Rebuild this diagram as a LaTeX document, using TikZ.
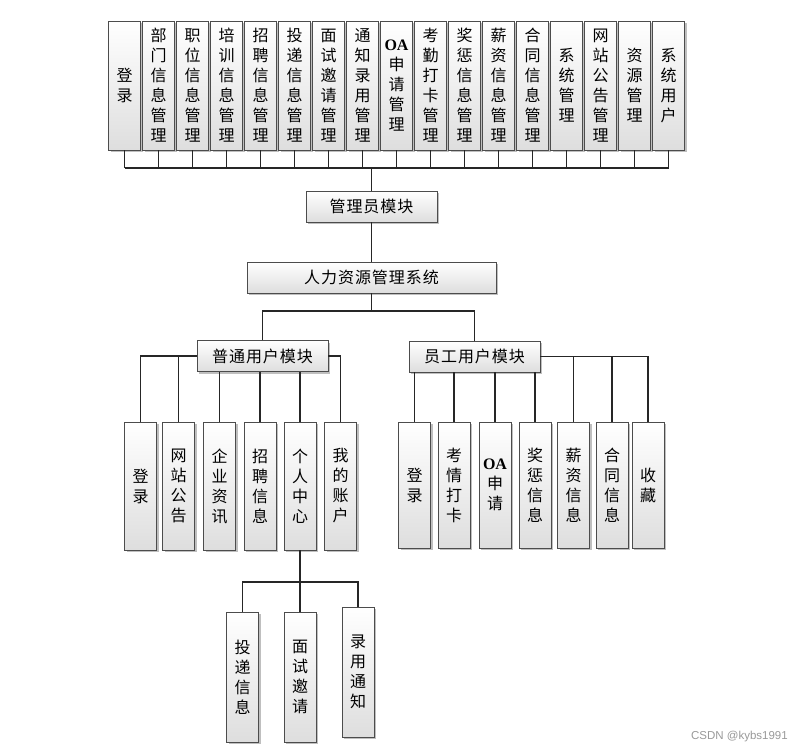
\documentclass[tikz,border=0pt]{standalone}
\usepackage{fontspec}
\setmainfont{Liberation Serif}
\newfontfamily\cjk{Noto Sans CJK SC}
\newfontfamily\cjkh[LetterSpace=6]{Noto Sans CJK SC}
\newfontfamily\oaf{Liberation Serif}
\newfontfamily\wmf{Liberation Sans}
\usetikzlibrary{shadows}
\newcommand\OAtxt{{\oaf\bfseries OA}}
\begin{document}
\begin{tikzpicture}[x=1pt,y=-1pt,
  box/.style={draw=black!70, line width=0.9pt, top color=white, bottom color=black!13,
    drop shadow={shadow xshift=2pt, shadow yshift=-2pt, fill=black!25, opacity=1},
    inner sep=0pt, align=center},
  vbox/.style={box, minimum width=32pt, font=\cjk\fontsize{16}{20}\selectfont},
  hbox/.style={box, minimum height=31pt, font=\cjkh\fontsize{16}{18}\selectfont},
  conn/.style={draw=black!85, line width=1.2pt}]
\fill[white] (0,0) rectangle (805,752);
\useasboundingbox (0,0) rectangle (805,752);

% top row
\node[vbox, minimum height=129pt] (t1)  at (124.5,85.5) {登\\录};
\node[vbox, minimum height=129pt] (t2)  at (158.5,85.5) {部\\门\\信\\息\\管\\理};
\node[vbox, minimum height=129pt] (t3)  at (192.5,85.5) {职\\位\\信\\息\\管\\理};
\node[vbox, minimum height=129pt] (t4)  at (226.5,85.5) {培\\训\\信\\息\\管\\理};
\node[vbox, minimum height=129pt] (t5)  at (260.5,85.5) {招\\聘\\信\\息\\管\\理};
\node[vbox, minimum height=129pt] (t6)  at (294.5,85.5) {投\\递\\信\\息\\管\\理};
\node[vbox, minimum height=129pt] (t7)  at (328.5,85.5) {面\\试\\邀\\请\\管\\理};
\node[vbox, minimum height=129pt] (t8)  at (362.5,85.5) {通\\知\\录\\用\\管\\理};
\node[vbox, minimum height=129pt] (t9)  at (396.5,85.5) {\OAtxt\\申\\请\\管\\理};
\node[vbox, minimum height=129pt] (t10) at (430.5,85.5) {考\\勤\\打\\卡\\管\\理};
\node[vbox, minimum height=129pt] (t11) at (464.5,85.5) {奖\\惩\\信\\息\\管\\理};
\node[vbox, minimum height=129pt] (t12) at (498.5,85.5) {薪\\资\\信\\息\\管\\理};
\node[vbox, minimum height=129pt] (t13) at (532.5,85.5) {合\\同\\信\\息\\管\\理};
\node[vbox, minimum height=129pt] (t14) at (566.5,85.5) {系\\统\\管\\理};
\node[vbox, minimum height=129pt] (t15) at (600.5,85.5) {网\\站\\公\\告\\管\\理};
\node[vbox, minimum height=129pt] (t16) at (634.5,85.5) {资\\源\\管\\理};
\node[vbox, minimum height=129pt] (t17) at (668.5,85.5) {系\\统\\用\\户};

\coordinate (bus) at (124.5,168);
\foreach \i in {1,...,17} \draw[conn] (t\i.south) -- (t\i.south |- bus);
\draw[conn] (t1.south |- bus) -- (t17.south |- bus);

\node[hbox, minimum width=131pt] (admin) at (371.5,206.5) {管理员模块};
\draw[conn] (admin.north) -- (admin.north |- bus);

\node[hbox, minimum width=249pt] (sys) at (371.5,277.5) {人力资源管理系统};
\draw[conn] (admin.south) -- (sys.north);

\node[hbox, minimum width=131pt] (pu) at (262.5,356) {普通用户模块};
\node[hbox, minimum width=131pt] (eu) at (474.5,356.5) {员工用户模块};
\coordinate (split) at (371.5,311);
\draw[conn] (sys.south) -- (split);
\draw[conn] (pu.north) |- (split) -| (eu.north);

% ordinary user children
\node[vbox, minimum height=128pt] (p1) at (140.5,486) {登\\录};
\node[vbox, minimum height=128pt] (p2) at (178.5,486) {网\\站\\公\\告};
\node[vbox, minimum height=128pt] (p3) at (219.5,486) {企\\业\\资\\讯};
\node[vbox, minimum height=128pt] (p4) at (260,486) {招\\聘\\信\\息};
\node[vbox, minimum height=128pt] (p5) at (300,486) {个\\人\\中\\心};
\node[vbox, minimum height=128pt] (p6) at (340.5,486) {我\\的\\账\\户};
\draw[conn] (pu.west) -| (p1.north);
\draw[conn] (p2.north) |- (pu.west);
\draw[conn] (pu.east) -| (p6.north);
\foreach \i in {3,4,5} \draw[conn] (p\i.north) -- (p\i.north |- pu.south);

% employee children
\node[vbox, minimum height=126pt] (e1) at (414.5,485) {登\\录};
\node[vbox, minimum height=126pt] (e2) at (454,485) {考\\情\\打\\卡};
\node[vbox, minimum height=126pt] (e3) at (495,485) {\OAtxt\\申\\请};
\node[vbox, minimum height=126pt] (e4) at (535,485) {奖\\惩\\信\\息};
\node[vbox, minimum height=126pt] (e5) at (573.5,485) {薪\\资\\信\\息};
\node[vbox, minimum height=126pt] (e6) at (612,485) {合\\同\\信\\息};
\node[vbox, minimum height=126pt] (e7) at (648,485) {收\\藏};
\foreach \i in {1,2,3,4} \draw[conn] (e\i.north) -- (e\i.north |- eu.south);
\draw[conn] (eu.east) -| (e7.north);
\draw[conn] (e5.north) |- (eu.east);
\draw[conn] (e6.north) |- (eu.east);

% personal center children
\node[vbox, minimum height=130pt] (s1) at (242.5,677) {投\\递\\信\\息};
\node[vbox, minimum height=130pt] (s2) at (300,677) {面\\试\\邀\\请};
\node[vbox, minimum height=130pt] (s3) at (358,672) {录\\用\\通\\知};
\coordinate (sbus) at (306,582);
\draw[conn] (p5.south) -- (p5.south |- sbus);
\draw[conn] (s1.north) |- (sbus) -| (s3.north);
\draw[conn] (s2.north) -- (s2.north |- sbus);

\node[font=\wmf\fontsize{11.5}{13}\selectfont, text=black!40, anchor=east, inner sep=0pt] (wm) at (788,737) {CSDN @kybs1991};
\end{tikzpicture}
\end{document}
